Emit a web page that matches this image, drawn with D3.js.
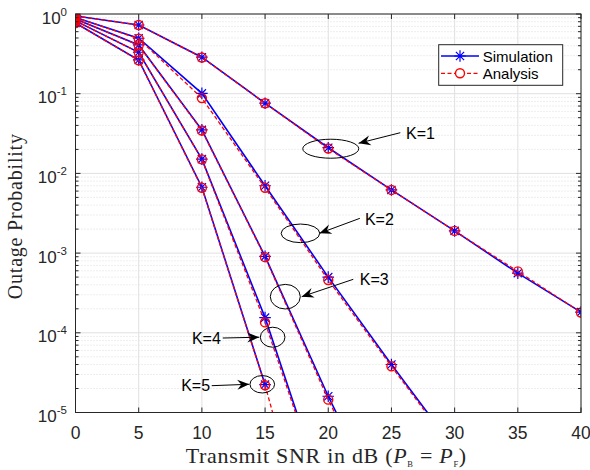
<!DOCTYPE html>
<html>
<head>
<meta charset="utf-8">
<script src="https://cdn.jsdelivr.net/npm/d3@7"></script>
<style>
  html, body { margin: 0; padding: 0; background: #fff; }
  svg { display: block; }
</style>
</head>
<body>
<svg id="chart" width="590" height="470"></svg>
<script>
// Transmit SNR (dB) grid shared by every curve
const snrDb = [0, 5, 10, 15, 20, 25, 30, 35, 40];

// Simulated outage probability, one array per number of users K (null = no value)
const simK1 = [0.945, 0.728, 0.287, 0.076, 0.021, 0.0062, 0.0019, 5.6e-4, 1.82e-4];
const simK2 = [0.905, 0.496, 0.101, 0.0070, 5.0e-4, 4.0e-5, 3.5e-6, null, null];
const simK3 = [0.865, 0.409, 0.0352, 9.1e-4, 1.6e-5, 3.8e-7, null, null, null];
const simK4 = [0.820, 0.331, 0.0151, 1.55e-4, 6.5e-7, null, null, null, null];
const simK5 = [0.770, 0.265, 0.0067, 2.24e-5, null, null, null, null, null];

// Analytical outage probability
const anaK1 = [0.945, 0.728, 0.285, 0.076, 0.0205, 0.0062, 0.0019, 5.9e-4, 1.80e-4];
const anaK2 = [0.905, 0.490, 0.088, 0.0066, 4.6e-4, 3.8e-5, 3.3e-6, null, null];
const anaK3 = [0.865, 0.405, 0.0345, 8.9e-4, 1.45e-5, 3.5e-7, null, null, null];
const anaK4 = [0.820, 0.330, 0.0150, 1.35e-4, 6.0e-7, null, null, null, null];
const anaK5 = [0.770, 0.262, 0.0066, 2.2e-5, 3.0e-8, null, null, null, null];

const userLabels = ["K=1", "K=2", "K=3", "K=4", "K=5"];
const xTickValues = [0, 5, 10, 15, 20, 25, 30, 35, 40];
const yTickExponents = [0, -1, -2, -3, -4, -5];
const legendLabels = ["Simulation", "Analysis"];

const simSeries = [simK1, simK2, simK3, simK4, simK5];
const anaSeries = [anaK1, anaK2, anaK3, anaK4, anaK5];

// Curve callouts: ellipse around a curve, arrow from the label to the ellipse
const callouts = [
  { label: userLabels[0], cx: 20.2, cy: 0.0204, rx: 28, ry: 9.5,
    tail: [25.7, 0.0324], tip: [22.4, 0.0239], text: [26.15, 0.0315], anchor: "start" },
  { label: userLabels[1], cx: 17.8, cy: 1.77e-3, rx: 19.3, ry: 9.3,
    tail: [22.5, 2.73e-3], tip: [19.3, 1.77e-3], text: [22.9, 2.65e-3], anchor: "start" },
  { label: userLabels[2], cx: 16.6, cy: 2.84e-4, rx: 15, ry: 12.3,
    tail: [21.98, 4.69e-4], tip: [17.9, 2.84e-4], text: [22.5, 4.6e-4], anchor: "start" },
  { label: userLabels[3], cx: 15.6, cy: 8.8e-5, rx: 12.3, ry: 10,
    tail: [11.65, 8.6e-5], tip: [14.54, 8.8e-5], text: [11.5, 8.6e-5], anchor: "end" },
  { label: userLabels[4], cx: 14.78, cy: 2.26e-5, rx: 12.3, ry: 8.7,
    tail: [10.78, 2.17e-5], tip: [13.75, 2.26e-5], text: [10.65, 2.17e-5], anchor: "end" }
];

const svg = d3.select("#chart");
const plot = { left: 75.5, right: 581, top: 14, bottom: 412.5 };

const x = d3.scaleLinear().domain([0, 40]).range([plot.left, plot.right]);
const y = d3.scaleLog().domain([1e-5, 1]).range([plot.bottom, plot.top]);

const BLUE = "#0000ff", RED = "#ff0000", AXIS = "#262626";
const tickFont = "'Liberation Sans', Arial, Helvetica, sans-serif";
const serifFont = "'Liberation Serif', 'Times New Roman', Times, serif";

svg.append("rect").attr("width", 590).attr("height", 470).attr("fill", "#fff");

svg.append("defs").append("clipPath").attr("id", "plot-clip")
  .append("rect")
  .attr("x", plot.left).attr("y", plot.top)
  .attr("width", plot.right - plot.left).attr("height", plot.bottom - plot.top);

// Grid: minor (dotted) then major (solid)
const grid = svg.append("g");
const minorVals = [];
for (let e = -5; e < 0; e++) for (let m = 2; m <= 9; m++) minorVals.push(m * Math.pow(10, e));
grid.selectAll("line.ymin").data(minorVals).join("line")
  .attr("x1", plot.left).attr("x2", plot.right)
  .attr("y1", d => y(d)).attr("y2", d => y(d))
  .attr("stroke", "#d4d4d4").attr("stroke-width", 0.8).attr("stroke-dasharray", "1,2");
grid.selectAll("line.ymaj").data(yTickExponents.map(e => Math.pow(10, e))).join("line")
  .attr("x1", plot.left).attr("x2", plot.right)
  .attr("y1", d => y(d)).attr("y2", d => y(d))
  .attr("stroke", "#e0e0e0").attr("stroke-width", 1);
grid.selectAll("line.xmaj").data(xTickValues).join("line")
  .attr("x1", d => x(d)).attr("x2", d => x(d))
  .attr("y1", plot.top).attr("y2", plot.bottom)
  .attr("stroke", "#e0e0e0").attr("stroke-width", 1);

// Curves
const curves = svg.append("g").attr("clip-path", "url(#plot-clip)");
const toPoints = arr => arr.map((v, i) => ({ s: snrDb[i], v }));
const line = d3.line()
  .defined(d => d.v != null && d.v > 0)
  .x(d => x(d.s)).y(d => y(d.v));

function asteriskPath(s) {
  const d = s * 0.7071;
  return `M${-s},0H${s}M0,${-s}V${s}M${-d},${-d}L${d},${d}M${-d},${d}L${d},${-d}`;
}

simSeries.forEach(arr => {
  curves.append("path").datum(toPoints(arr))
    .attr("d", line).attr("fill", "none")
    .attr("stroke", BLUE).attr("stroke-width", 1.6);
});
simSeries.forEach(arr => {
  curves.selectAll(null).data(toPoints(arr).filter(d => d.v != null)).join("path")
    .attr("transform", d => `translate(${x(d.s)},${y(d.v)})`)
    .attr("d", asteriskPath(5.8)).attr("fill", "none")
    .attr("stroke", BLUE).attr("stroke-width", 1.2);
});
anaSeries.forEach(arr => {
  curves.append("path").datum(toPoints(arr))
    .attr("d", line).attr("fill", "none")
    .attr("stroke", RED).attr("stroke-width", 1.3).attr("stroke-dasharray", "4,2.5");
});
anaSeries.forEach(arr => {
  curves.selectAll(null).data(toPoints(arr).filter(d => d.v != null)).join("circle")
    .attr("cx", d => x(d.s)).attr("cy", d => y(d.v)).attr("r", 4.5)
    .attr("fill", "none").attr("stroke", RED).attr("stroke-width", 1.4);
});

// Axes box and ticks
const axes = svg.append("g").attr("stroke", AXIS);
axes.append("rect")
  .attr("x", plot.left).attr("y", plot.top)
  .attr("width", plot.right - plot.left).attr("height", plot.bottom - plot.top)
  .attr("fill", "none").attr("stroke-width", 1);
xTickValues.forEach(v => {
  axes.append("line").attr("x1", x(v)).attr("x2", x(v))
    .attr("y1", plot.bottom).attr("y2", plot.bottom - 5);
  axes.append("line").attr("x1", x(v)).attr("x2", x(v))
    .attr("y1", plot.top).attr("y2", plot.top + 5);
});
yTickExponents.forEach(e => {
  const yy = y(Math.pow(10, e));
  axes.append("line").attr("x1", plot.left).attr("x2", plot.left + 5).attr("y1", yy).attr("y2", yy);
  axes.append("line").attr("x1", plot.right).attr("x2", plot.right - 5).attr("y1", yy).attr("y2", yy);
});
minorVals.forEach(v => {
  const yy = y(v);
  axes.append("line").attr("x1", plot.left).attr("x2", plot.left + 3).attr("y1", yy).attr("y2", yy);
  axes.append("line").attr("x1", plot.right).attr("x2", plot.right - 3).attr("y1", yy).attr("y2", yy);
});

// Tick labels
svg.append("g").selectAll("text").data(xTickValues).join("text")
  .attr("x", d => x(d)).attr("y", plot.bottom + 26)
  .attr("text-anchor", "middle")
  .attr("font-family", tickFont).attr("font-size", 17.5).attr("fill", AXIS)
  .text(d => d);

const yLabels = svg.append("g").selectAll("text").data(yTickExponents).join("text")
  .attr("x", 67).attr("y", d => y(Math.pow(10, d)) + 9.5)
  .attr("text-anchor", "end")
  .attr("font-family", tickFont).attr("font-size", 17).attr("fill", AXIS);
yLabels.append("tspan").text("10");
yLabels.append("tspan").attr("dy", -8).attr("font-size", 11.5).text(d => d);

// Axis titles
const xTitle = svg.append("text")
  .attr("x", (plot.left + plot.right) / 2 - 2).attr("y", 463)
  .attr("text-anchor", "middle")
  .attr("font-family", serifFont).attr("font-size", 22).attr("letter-spacing", 0.7)
  .attr("fill", AXIS);
xTitle.append("tspan").text("Transmit SNR in dB (");
xTitle.append("tspan").attr("font-style", "italic").text("P");
xTitle.append("tspan").attr("font-size", 8.5).attr("dy", 4).text("B");
xTitle.append("tspan").attr("dy", -4).text(" = ");
xTitle.append("tspan").attr("font-style", "italic").text("P");
xTitle.append("tspan").attr("font-size", 8.5).attr("dy", 4).text("F");
xTitle.append("tspan").attr("dy", -4).text(")");

svg.append("text")
  .attr("transform", `translate(22,${(plot.top + plot.bottom) / 2 + 3}) rotate(-90)`)
  .attr("text-anchor", "middle")
  .attr("font-family", serifFont).attr("font-size", 20).attr("letter-spacing", 0.8)
  .attr("fill", AXIS)
  .text("Outage Probability");

// Callouts
const notes = svg.append("g");
function arrowHead(tx, ty, fx, fy) {
  const a = Math.atan2(ty - fy, tx - fx);
  const L = 12, W = 5, N = 8;
  const pts = [[0, 0], [-L, -W], [-N, 0], [-L, W]].map(([u, v]) => [
    tx + u * Math.cos(a) - v * Math.sin(a),
    ty + u * Math.sin(a) + v * Math.cos(a)
  ]);
  return "M" + pts.map(p => p.join(",")).join("L") + "Z";
}
callouts.forEach(c => {
  notes.append("ellipse")
    .attr("cx", x(c.cx)).attr("cy", y(c.cy)).attr("rx", c.rx).attr("ry", c.ry)
    .attr("fill", "none").attr("stroke", "#000").attr("stroke-width", 1);
  const fx = x(c.tail[0]), fy = y(c.tail[1]), tx = x(c.tip[0]), ty = y(c.tip[1]);
  notes.append("line").attr("x1", fx).attr("y1", fy).attr("x2", tx).attr("y2", ty)
    .attr("stroke", "#000").attr("stroke-width", 1);
  notes.append("path").attr("d", arrowHead(tx, ty, fx, fy)).attr("fill", "#000");
  notes.append("text")
    .attr("x", x(c.text[0])).attr("y", y(c.text[1]))
    .attr("dominant-baseline", "central").attr("text-anchor", c.anchor)
    .attr("font-family", tickFont).attr("font-size", 16).attr("fill", "#000")
    .text(c.label);
});

// Legend
const legend = svg.append("g");
legend.append("rect")
  .attr("x", 438.7).attr("y", 44.7).attr("width", 124).attr("height", 40.6)
  .attr("fill", "#fff").attr("stroke", AXIS).attr("stroke-width", 1);
[
  { label: legendLabels[0], color: BLUE, dash: null, yy: 56 },
  { label: legendLabels[1], color: RED, dash: "4,2.5", yy: 73.3 }
].forEach((item, i) => {
  legend.append("line").attr("x1", 441).attr("x2", 479).attr("y1", item.yy).attr("y2", item.yy)
    .attr("stroke", item.color).attr("stroke-width", i === 0 ? 1.6 : 1.3)
    .attr("stroke-dasharray", item.dash);
  if (i === 0) {
    legend.append("path").attr("transform", `translate(460,${item.yy})`)
      .attr("d", asteriskPath(5.8)).attr("fill", "none").attr("stroke", BLUE).attr("stroke-width", 1.2);
  } else {
    legend.append("circle").attr("cx", 460).attr("cy", item.yy).attr("r", 4.5)
      .attr("fill", "#fff").attr("stroke", RED).attr("stroke-width", 1.4);
  }
  legend.append("text").attr("x", 482.7).attr("y", item.yy)
    .attr("dominant-baseline", "central")
    .attr("font-family", tickFont).attr("font-size", 15).attr("fill", "#000")
    .text(item.label);
});
</script>
</body>
</html>
